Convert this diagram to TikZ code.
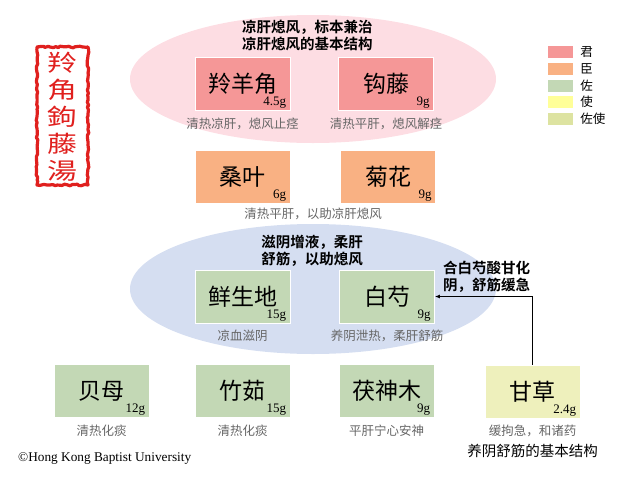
\documentclass[tikz,border=0pt]{standalone}
\usepackage{fontspec}
\setmainfont{Liberation Serif}
\newfontfamily\cjk{Noto Sans CJK SC}
\newfontfamily\cjkb{Noto Sans CJK SC Bold}
\usepackage{xcolor}
\usetikzlibrary{positioning,calc,decorations.pathmorphing,arrows.meta}

\definecolor{junbox}{HTML}{F59797}
\definecolor{junoval}{HTML}{FDDDE3}
\definecolor{chenbox}{HTML}{F9B183}
\definecolor{zuobox}{HTML}{C3D8B5}
\definecolor{yinoval}{HTML}{D5DEF1}
\definecolor{shibox}{HTML}{FFFF99}
\definecolor{zuoshibox}{HTML}{DDE3A1}
\definecolor{gancaobox}{HTML}{EEF0BC}
\definecolor{sealred}{HTML}{E0201E}
\definecolor{capgray}{HTML}{666666}

\begin{document}
\begin{tikzpicture}[x=1pt,y=-1pt,
    herb/.style={draw=white, line width=0.8pt, minimum width=95pt, minimum height=53pt,
        inner sep=0pt, font=\cjk\fontsize{23}{26}\selectfont},
    dose/.style={anchor=south east, inner sep=0pt, font=\fontsize{13}{14}\selectfont},
    effect/.style={inner sep=0pt, text=capgray, font=\cjk\fontsize{12.5}{14}\selectfont},
    note/.style={inner sep=0pt, align=left, font=\cjkb\fontsize{14.5}{17}\selectfont},
    swatch/.style={minimum width=25pt, minimum height=12pt, inner sep=0pt},
    legtext/.style={anchor=west, inner sep=0pt, font=\cjk\fontsize{12.5}{14}\selectfont}]
    \useasboundingbox (0,0) rectangle (640,480);

    % seal
    \draw[sealred, line width=3.2pt, line join=round,
        decorate, decoration={random steps, segment length=2.5pt, amplitude=0.8pt}]
        (37,47) rectangle (88,185);
    \node[text=sealred, align=center, inner sep=0pt, xscale=1.3,
        font=\cjk\fontsize{23}{27}\selectfont] (seal) at (62.5,116.5)
        {羚\\角\\鉤\\藤\\湯};

    % groups
    \fill[junoval] (313,79) ellipse [x radius=183, y radius=64];
    \fill[yinoval] (313,289) ellipse [x radius=183, y radius=65];
    \node[note, anchor=north west] (jungroup) at (242,20)
        {凉肝熄风，标本兼治\\凉肝熄风的基本结构};
    \node[note, anchor=north] (yingroup) at (312,235)
        {滋阴增液，柔肝\\舒筋，以助熄风};

    % herbs
    \node[herb, fill=junbox] (lingyang) at (242.5,84) {羚羊角};
    \node[herb, fill=junbox] (gouteng) at (386,84) {钩藤};
    \node[herb, fill=chenbox] (sangye) at (242.5,176.5) {桑叶};
    \node[herb, fill=chenbox] (juhua) at (388,176.5) {菊花};
    \node[herb, fill=zuobox] (shengdi) at (242.5,296.5) {鲜生地};
    \node[herb, fill=zuobox] (baishao) at (387,296.5) {白芍};
    \node[herb, fill=zuobox] (beimu) at (101.5,391) {贝母};
    \node[herb, fill=zuobox] (zhuru) at (242.5,391) {竹茹};
    \node[herb, fill=zuobox] (fushen) at (386.5,391) {茯神木};
    \node[herb, fill=gancaobox] (gancao) at (532.5,391.5) {甘草};

    % doses
    \node[dose] at ($(lingyang.south east)+(-4,-2)$) {4.5g};
    \node[dose] at ($(gouteng.south east)+(-4,-2)$) {9g};
    \node[dose] at ($(sangye.south east)+(-4,-2)$) {6g};
    \node[dose] at ($(juhua.south east)+(-4,-2)$) {9g};
    \node[dose] at ($(shengdi.south east)+(-4,-2)$) {15g};
    \node[dose] at ($(baishao.south east)+(-4,-2)$) {9g};
    \node[dose] at ($(beimu.south east)+(-4,-2)$) {12g};
    \node[dose] at ($(zhuru.south east)+(-4,-2)$) {15g};
    \node[dose] at ($(fushen.south east)+(-4,-2)$) {9g};
    \node[dose] at ($(gancao.south east)+(-4,-2)$) {2.4g};

    % effects
    \node[effect, below=6.5pt of lingyang] (lingyangfx) {清热凉肝，熄风止痉};
    \node[effect, below=6.5pt of gouteng] (goutengfx) {清热平肝，熄风解痉};
    \node[effect] (chenfx) at (313,214) {清热平肝，以助凉肝熄风};
    \node[effect, below=6.5pt of shengdi] (shengdifx) {凉血滋阴};
    \node[effect, below=6.5pt of baishao] (baishaofx) {养阴泄热，柔肝舒筋};
    \node[effect, below=6.5pt of beimu] (beimufx) {清热化痰};
    \node[effect, below=6.5pt of zhuru] (zhurufx) {清热化痰};
    \node[effect, below=6.5pt of fushen] (fushenfx) {平肝宁心安神};
    \node[effect, below=6.5pt of gancao] (gancaofx) {缓拘急，和诸药};
    \node[inner sep=0pt, font=\cjk\fontsize{14.5}{17}\selectfont, below=7pt of gancaofx]
        (gancaogroup) {养阴舒筋的基本结构};

    % gancao -> baishao
    \draw[line width=0.9pt, -{Latex[length=5pt,width=4pt]}] (gancao.north) |- (baishao.east);
    \node[note, anchor=west] (pairnote) at (443,277) {合白芍酸甘化\\阴，舒筋缓急};

    % legend
    \node[swatch, fill=junbox] (legjun) at (560.5,52) {};
    \node[swatch, fill=chenbox] (legchen) at (560.5,68.5) {};
    \node[swatch, fill=zuobox] (legzuo) at (560.5,85.5) {};
    \node[swatch, fill=shibox] (legshi) at (560.5,102) {};
    \node[swatch, fill=zuoshibox] (legzuoshi) at (560.5,119) {};
    \node[legtext, right=7pt of legjun] {君};
    \node[legtext, right=7pt of legchen] {臣};
    \node[legtext, right=7pt of legzuo] {佐};
    \node[legtext, right=7pt of legshi] {使};
    \node[legtext, right=7pt of legzuoshi] {佐使};

    \node[anchor=west, inner sep=0pt, font=\fontsize{13.3}{15}\selectfont] (credit) at (18,459)
        {©Hong Kong Baptist University};
\end{tikzpicture}
\end{document}
